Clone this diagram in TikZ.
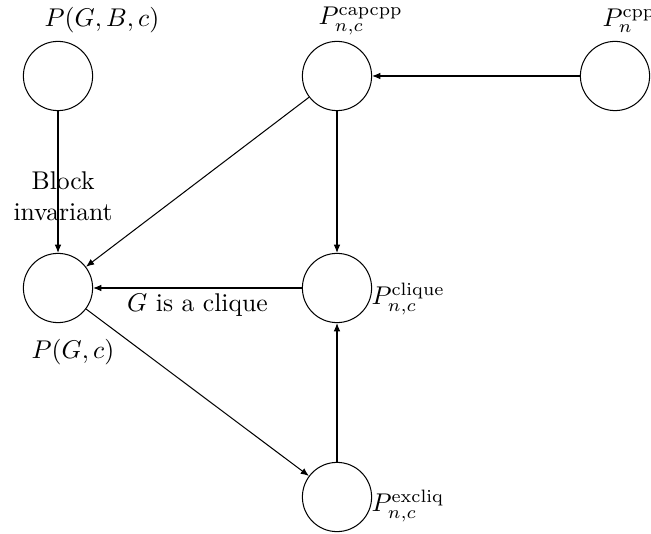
\documentclass[tikz,border=0pt]{standalone}
\usetikzlibrary{arrows.meta}
\begin{document}
\begin{tikzpicture}[x=0.39pt,y=-0.39pt,
  state/.style={draw, circle, minimum size=27pt, inner sep=0pt},
  conn/.style={-{Latex[length=3.2pt,width=2.6pt]}}]
\useasboundingbox (0,0) rectangle (651,534);
\clip (0,0) rectangle (651,534);
\node[state] (a) at (58,76) {};
\node[state] (b) at (337,76) {};
\node[state] (e) at (615,76) {};
\node[state] (c) at (58,288) {};
\node[state] (d) at (337,288) {};
\node[state] (f) at (337,497) {};
\node (la) at (102,20) {$P(G,B,c)$};
\node[anchor=west, inner sep=0pt] (lb) at (318,21) {$P_{n,c}^{\mathrm{capcpp}}$};
\node[anchor=west, inner sep=0pt] (le) at (602,21) {$P_{n}^{\mathrm{cpp}}$};
\node (lc) at (73,352) {$P(G,c)$};
\node[anchor=west, inner sep=0pt] (ld) at (371,299) {$P_{n,c}^{\mathrm{clique}}$};
\node[anchor=west, inner sep=0pt] (lf) at (371,506) {$P_{n,c}^{\mathrm{excliq}}$};
\draw[conn] (a) -- node[pos=0.6, align=center, inner sep=0pt, xshift=2pt] {Block\\invariant} (c);
\draw[conn] (b) -- (c);
\draw[conn] (b) -- (d);
\draw[conn] (e) -- (b);
\draw[conn] (d) -- node[midway, below, inner sep=2pt] {$G$ is a clique} (c);
\draw[conn] (c) -- (f);
\draw[conn] (f) -- (d);
\end{tikzpicture}
\end{document}
